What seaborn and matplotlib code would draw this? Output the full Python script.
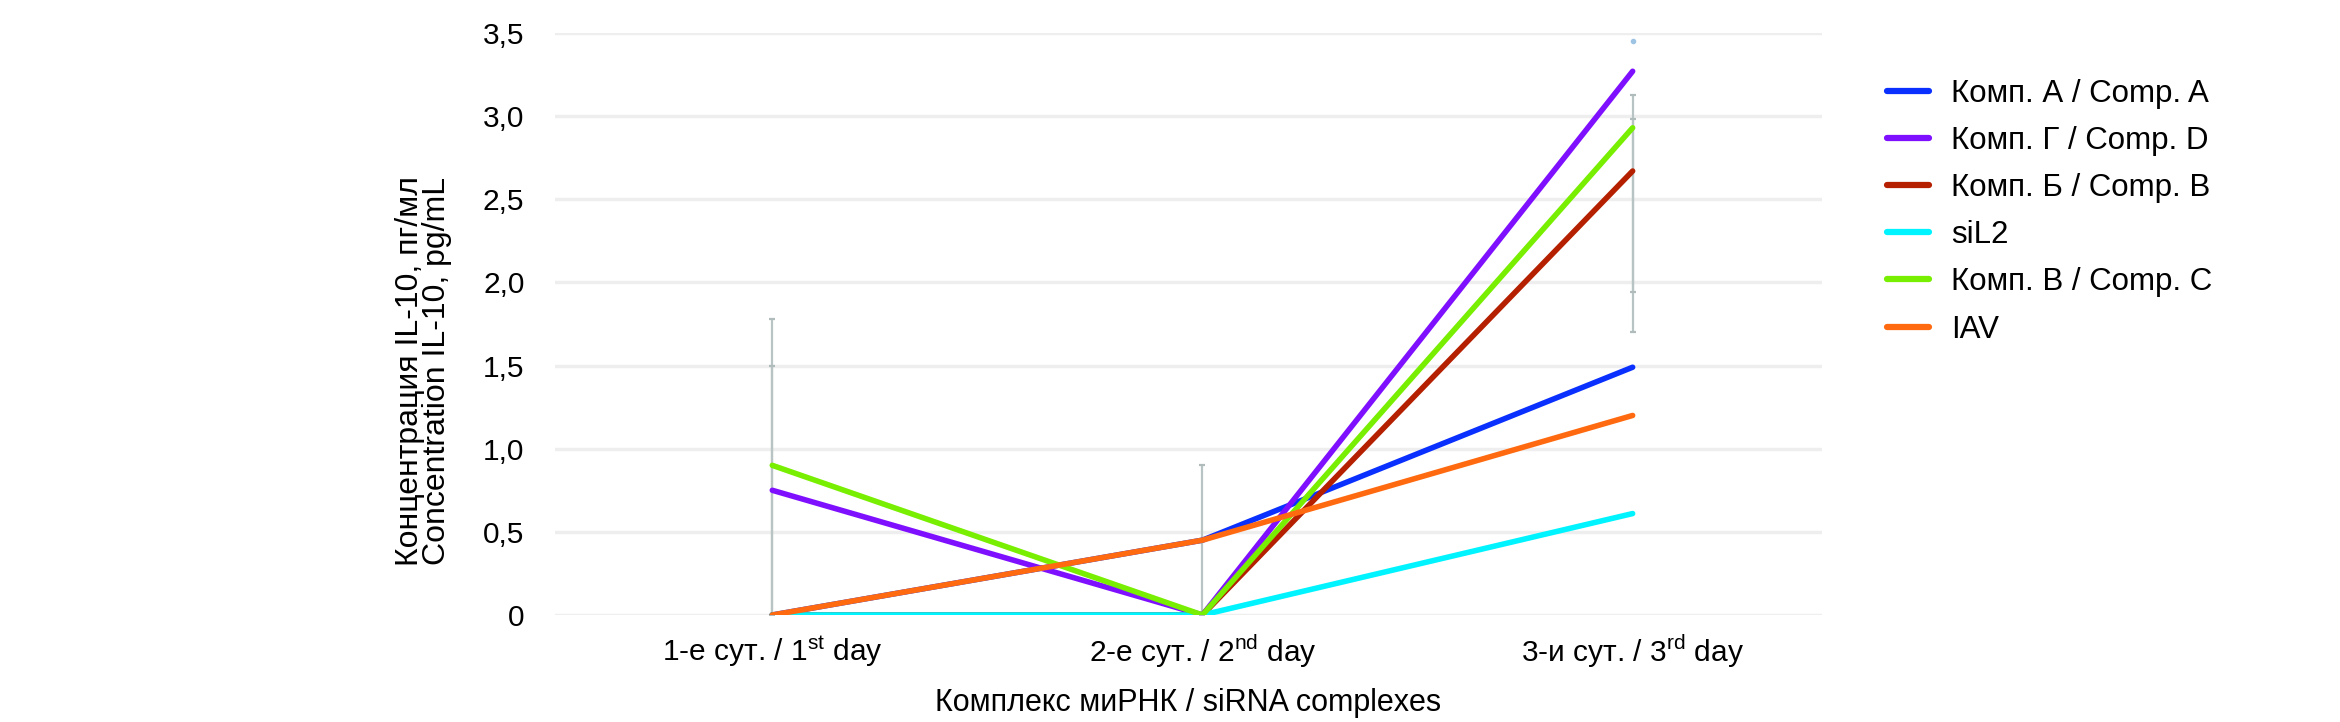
import numpy as np
import pandas as pd
import matplotlib
matplotlib.use("Agg")
import matplotlib.pyplot as plt
import seaborn as sns

# data
days = [0, 1, 2]
day_labels = ['1-е сут. / 1$^{\\mathrm{st}}$ day',
              '2-е сут. / 2$^{\\mathrm{nd}}$ day',
              '3-и сут. / 3$^{\\mathrm{rd}}$ day']
series_names = ['Комп. А / Comp. A', 'Комп. Г / Comp. D', 'Комп. Б / Comp. B',
                'siL2', 'Комп. В / Comp. C', 'IAV']
comp_a = [0.0, 0.45, 1.49]
comp_d = [0.75, 0.0, 3.27]
comp_b = [0.0, 0.0, 2.67]
sil2 = [0.0, 0.0, 0.61]
comp_c = [0.90, 0.0, 2.93]
iav = [0.0, 0.45, 1.20]
colors = ['#0a30ff', '#7f10ff', '#b42000', '#00f4ff', '#78ee00', '#ff6a10']

# whiskers (grey error bars)
err_day = [0, 0, 1, 2, 2]
err_low = [0.0, 0.0, 0.0, 1.70, 1.94]
err_high = [1.78, 1.50, 0.90, 3.13, 2.98]
dot_day = [2]
dot_val = [3.45]

y_ticks = [0, 0.5, 1.0, 1.5, 2.0, 2.5, 3.0, 3.5]
y_ticklabels = ['0', '0,5', '1,0', '1,5', '2,0', '2,5', '3,0', '3,5']

rows = []
for name, vals in zip(series_names, [comp_a, comp_d, comp_b, sil2, comp_c, iav]):
    for d, v in zip(days, vals):
        rows.append({'day': d, 'value': v, 'series': name})
df = pd.DataFrame(rows)

sns.set_style('white')
plt.rcParams['font.family'] = ['Liberation Sans', 'DejaVu Sans']
plt.rcParams['mathtext.fontset'] = 'custom'
plt.rcParams['mathtext.rm'] = 'Liberation Sans'
plt.rcParams['text.color'] = 'black'
plt.rcParams['axes.labelcolor'] = 'black'
plt.rcParams['xtick.color'] = 'black'
plt.rcParams['ytick.color'] = 'black'

fig = plt.figure(figsize=(23.4, 7.22), dpi=100)
ax = fig.add_axes([0.2372, 0.1482, 0.5414, 0.8061])

for y in y_ticks:
    ax.axhline(y, color='#eeeeee', lw=2.5, zorder=0)

ax.vlines(err_day, err_low, err_high, color='#b8c4c4', lw=1.6, zorder=1)
ax.plot(err_day + err_day, err_low + err_high, ls='none', marker='_', ms=5,
        mew=1.6, color='#b0bcbc', zorder=1)
ax.plot(dot_day, dot_val, ls='none', marker='o', ms=3, color='#9ec4e4', zorder=1)

sns.lineplot(data=df, x='day', y='value', hue='series', hue_order=series_names,
             palette=colors, lw=4, sort=False, ax=ax, zorder=3)

ax.set_xlim(-0.505, 2.44)
ax.set_ylim(0, 3.5)
ax.set_xticks(days)
ax.set_xticklabels(day_labels, fontsize=21.5)
ax.set_yticks(y_ticks)
ax.set_yticklabels(y_ticklabels, fontsize=21.5)
ax.tick_params(axis='x', length=0, pad=13)
ax.tick_params(axis='y', length=0, pad=22)
for sp in ax.spines.values():
    sp.set_visible(False)

ax.set_xlabel('Комплекс миРНК / siRNA complexes', fontsize=22)
ax.xaxis.set_label_coords(0.5, -0.126)
ax.set_ylabel('Концентрация IL-10, пг/мл\nConcentration IL-10, pg/mL', fontsize=23,
              linespacing=0.9)
ax.yaxis.set_label_coords(-0.081, 0.42)

handles, labels = ax.get_legend_handles_labels()
leg = ax.legend(handles, labels, loc='upper left', bbox_to_anchor=(1.029, 0.97),
                frameon=False, fontsize=22.5, handlelength=1.35, handletextpad=0.7,
                labelspacing=0.55)
for h in leg.get_lines():
    h.set_linewidth(4.5)

fig.savefig('out.png', dpi=100)
